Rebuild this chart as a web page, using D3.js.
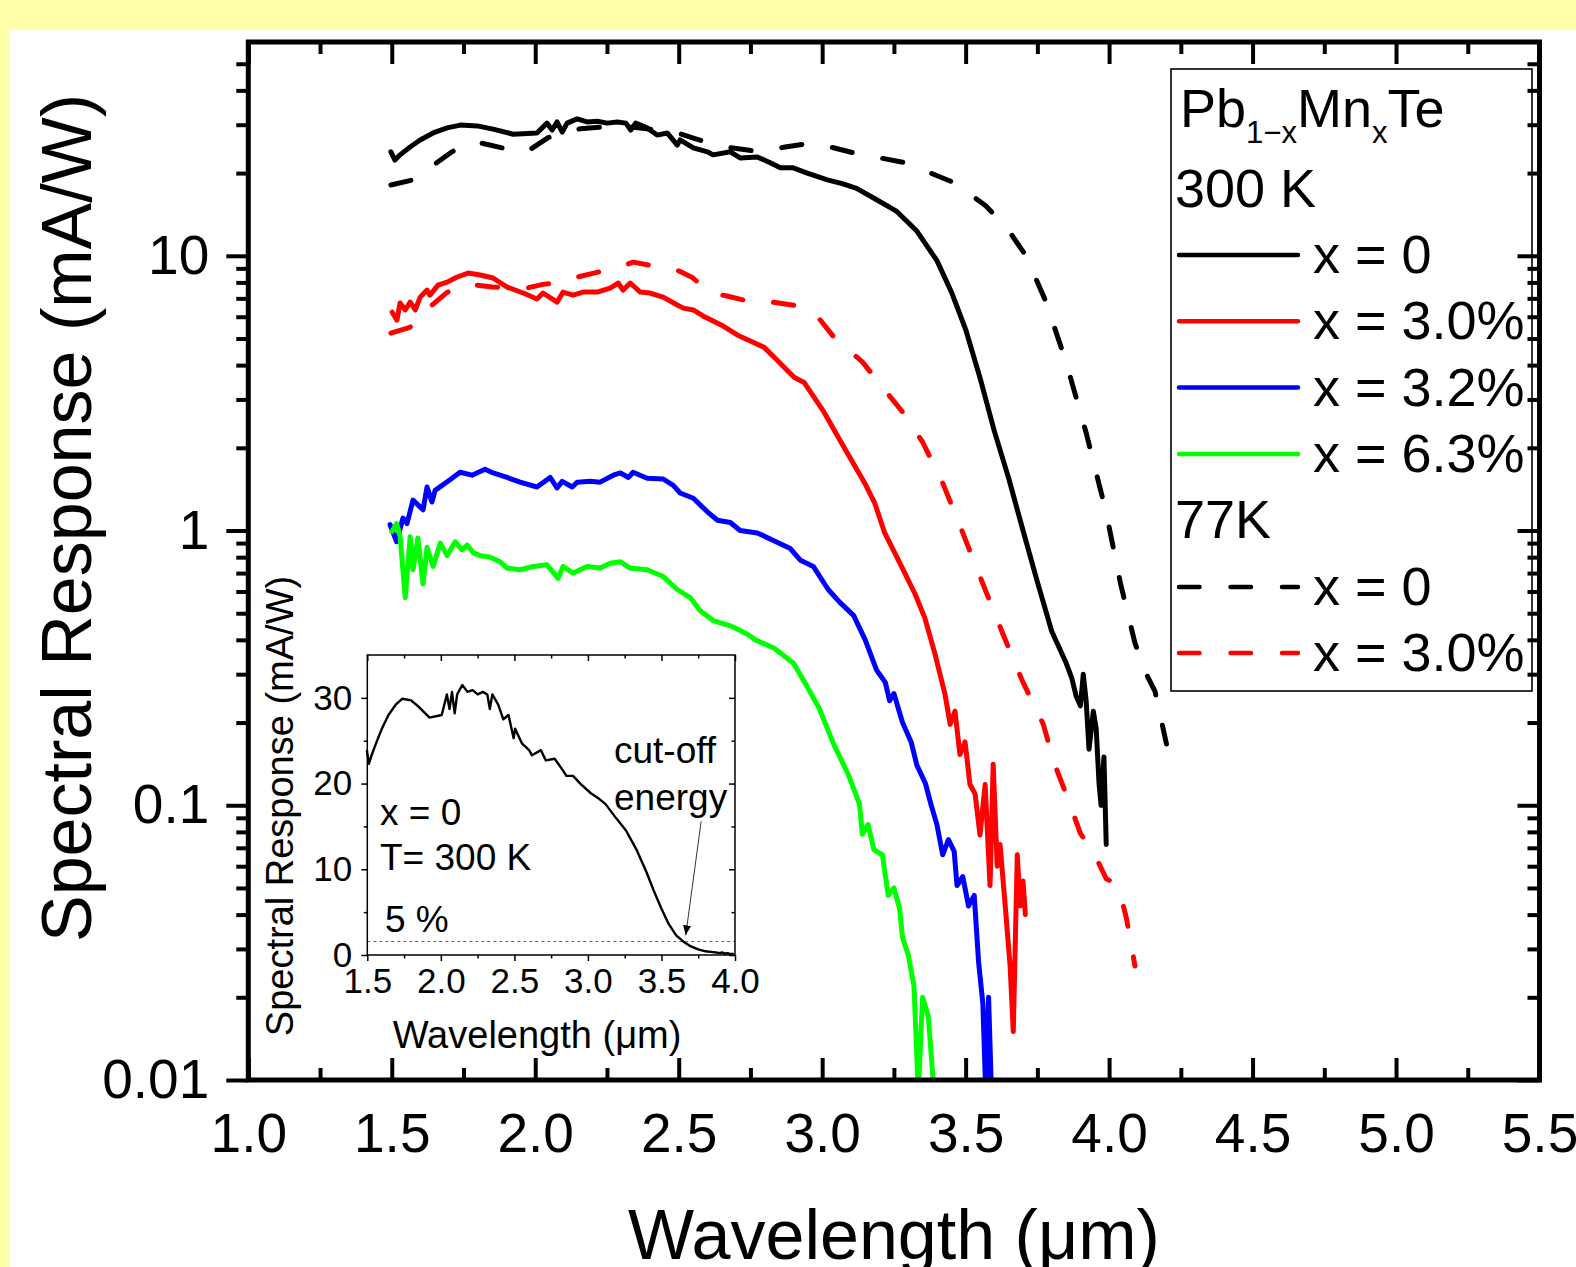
<!DOCTYPE html>
<html>
<head>
<meta charset="utf-8">
<script src="https://cdn.jsdelivr.net/npm/d3@7"></script>
<style>
  body { margin: 0; background: #fff; }
  svg { display: block; font-family: "Liberation Sans", Arial, sans-serif; }
</style>
</head>
<body>
<svg id="chart" width="1576" height="1267"></svg>
<script>
// ---- Axis ticks and labels ----
const xMajor = [1.0, 1.5, 2.0, 2.5, 3.0, 3.5, 4.0, 4.5, 5.0, 5.5];
const xTickLabels = ["1.0", "1.5", "2.0", "2.5", "3.0", "3.5", "4.0", "4.5", "5.0", "5.5"];
const xMinor = [1.25, 1.75, 2.25, 2.75, 3.25, 3.75, 4.25, 4.75, 5.25];
const yMajor = [0.01, 0.1, 1, 10];
const yTickLabels = ["0.01", "0.1", "1", "10"];
const yMinor = [0.02, 0.03, 0.04, 0.05, 0.06, 0.07, 0.08, 0.09,
                0.2, 0.3, 0.4, 0.5, 0.6, 0.7, 0.8, 0.9,
                2, 3, 4, 5, 6, 7, 8, 9, 20, 30, 40, 50];

const insetXMajor = [1.5, 2.0, 2.5, 3.0, 3.5, 4.0];
const insetXLabels = ["1.5", "2.0", "2.5", "3.0", "3.5", "4.0"];
const insetXMinor = [1.75, 2.25, 2.75, 3.25, 3.75];
const insetYMajor = [0, 10, 20, 30];
const insetYLabels = ["0", "10", "20", "30"];
const insetYMinor = [5, 15, 25];

// ---- Spectral response, [wavelength (um), response (mA/W)] ----
// Pb1-xMnxTe, x = 0, 300 K (also shown on a linear scale in the inset)
const pbte300K = [
  [1.497, 23.9], [1.511, 22.3], [1.529, 23.3], [1.564, 24.9], [1.599, 26.4], [1.644, 28.0],
  [1.693, 29.2], [1.739, 29.9], [1.798, 29.7], [1.853, 28.9], [1.923, 27.7], [2.006, 28.0],
  [2.041, 30.4], [2.059, 28.7], [2.076, 30.7], [2.094, 28.2], [2.111, 30.4], [2.146, 31.5],
  [2.181, 30.7], [2.216, 30.9], [2.251, 30.4], [2.286, 30.7], [2.316, 30.4], [2.333, 28.7],
  [2.350, 30.4], [2.390, 29.2], [2.425, 27.5], [2.460, 28.0], [2.495, 25.3], [2.505, 26.4],
  [2.551, 24.7], [2.600, 23.9], [2.620, 23.3], [2.680, 23.9], [2.714, 22.7], [2.774, 22.9],
  [2.819, 21.8], [2.854, 20.9], [2.899, 20.9], [2.948, 20.0], [3.018, 18.9], [3.07, 18.3],
  [3.12, 17.6], [3.19, 16.0], [3.26, 14.5], [3.33, 12.3], [3.40, 9.6], [3.45, 7.4],
  [3.50, 5.4], [3.55, 3.6], [3.60, 2.3], [3.65, 1.55], [3.70, 1.0], [3.75, 0.65],
  [3.80, 0.43], [3.85, 0.33], [3.87, 0.29], [3.885, 0.25], [3.90, 0.23], [3.91, 0.30],
  [3.92, 0.24], [3.93, 0.16], [3.945, 0.22], [3.955, 0.19], [3.965, 0.12], [3.972, 0.10],
  [3.982, 0.15], [3.99, 0.072]
];
// x = 3.0 %, 300 K
const mn30_300K = [
  [1.501, 6.24], [1.518, 5.83], [1.529, 6.73], [1.547, 6.35], [1.564, 6.78], [1.582, 6.35],
  [1.599, 7.07], [1.623, 7.50], [1.633, 7.19], [1.661, 7.82], [1.693, 8.02], [1.728, 8.37],
  [1.766, 8.65], [1.808, 8.51], [1.853, 8.30], [1.902, 7.69], [1.958, 7.32], [2.006, 6.96],
  [2.027, 7.32], [2.076, 6.78], [2.097, 7.38], [2.132, 7.19], [2.167, 7.38], [2.216, 7.38],
  [2.261, 7.63], [2.289, 7.96], [2.306, 7.50], [2.331, 7.96], [2.366, 7.38], [2.400, 7.32],
  [2.446, 7.07], [2.495, 6.62], [2.516, 6.45], [2.551, 6.35], [2.586, 6.03], [2.620, 5.79],
  [2.655, 5.55], [2.704, 5.15], [2.797, 4.65], [2.85, 4.1], [2.902, 3.61], [2.937, 3.46],
  [3.007, 2.69], [3.077, 2.0], [3.148, 1.49], [3.183, 1.26], [3.218, 0.98], [3.253, 0.83],
  [3.288, 0.70], [3.323, 0.59], [3.358, 0.48], [3.393, 0.356], [3.428, 0.254], [3.446, 0.197],
  [3.463, 0.22], [3.48, 0.153], [3.498, 0.17], [3.515, 0.119], [3.533, 0.11], [3.55, 0.078],
  [3.568, 0.119], [3.585, 0.051], [3.596, 0.141], [3.61, 0.06], [3.62, 0.072], [3.638, 0.043],
  [3.655, 0.026], [3.666, 0.015], [3.68, 0.066], [3.69, 0.043], [3.70, 0.053], [3.708, 0.040]
];
// x = 3.2 %, 300 K
const mn32_300K = [
  [1.494, 1.05], [1.517, 0.91], [1.539, 1.11], [1.553, 1.06], [1.574, 1.29], [1.609, 1.19],
  [1.623, 1.44], [1.640, 1.27], [1.651, 1.40], [1.703, 1.53], [1.738, 1.63], [1.780, 1.59],
  [1.825, 1.67], [1.853, 1.62], [1.902, 1.56], [1.947, 1.50], [2.006, 1.44], [2.052, 1.56],
  [2.076, 1.43], [2.094, 1.51], [2.129, 1.44], [2.146, 1.50], [2.192, 1.51], [2.226, 1.50],
  [2.272, 1.59], [2.297, 1.62], [2.325, 1.56], [2.341, 1.63], [2.390, 1.55], [2.446, 1.54],
  [2.481, 1.46], [2.505, 1.37], [2.551, 1.31], [2.600, 1.17], [2.635, 1.09], [2.680, 1.07],
  [2.714, 1.00], [2.774, 0.98], [2.830, 0.92], [2.889, 0.86], [2.924, 0.78], [2.969, 0.74],
  [3.021, 0.61], [3.06, 0.55], [3.11, 0.49], [3.15, 0.40], [3.19, 0.31], [3.22, 0.28],
  [3.235, 0.24], [3.25, 0.255], [3.28, 0.20], [3.31, 0.17], [3.33, 0.14], [3.36, 0.12],
  [3.38, 0.10], [3.40, 0.085], [3.42, 0.066], [3.44, 0.075], [3.46, 0.068], [3.47, 0.051],
  [3.49, 0.055], [3.51, 0.043], [3.53, 0.047], [3.545, 0.027], [3.56, 0.019], [3.57, 0.009],
  [3.58, 0.02], [3.59, 0.009]
];
// x = 6.3 %, 300 K
const mn63_300K = [
  [1.500, 0.99], [1.517, 1.06], [1.529, 0.95], [1.547, 0.57], [1.564, 0.95], [1.574, 0.72],
  [1.591, 0.94], [1.609, 0.64], [1.623, 0.87], [1.644, 0.74], [1.669, 0.90], [1.693, 0.81],
  [1.721, 0.91], [1.745, 0.85], [1.763, 0.885], [1.784, 0.83], [1.808, 0.81], [1.843, 0.80],
  [1.877, 0.77], [1.902, 0.73], [1.947, 0.72], [1.993, 0.74], [2.041, 0.75], [2.080, 0.67],
  [2.097, 0.74], [2.132, 0.70], [2.181, 0.74], [2.226, 0.73], [2.261, 0.76], [2.297, 0.77],
  [2.330, 0.73], [2.390, 0.72], [2.446, 0.68], [2.495, 0.61], [2.540, 0.57], [2.575, 0.51],
  [2.620, 0.47], [2.680, 0.45], [2.739, 0.42], [2.767, 0.40], [2.833, 0.373], [2.90, 0.329],
  [2.94, 0.279], [2.99, 0.225], [3.04, 0.167], [3.09, 0.130], [3.13, 0.101], [3.14, 0.0785],
  [3.16, 0.085], [3.18, 0.069], [3.21, 0.066], [3.23, 0.047], [3.25, 0.05], [3.27, 0.042],
  [3.28, 0.033], [3.30, 0.0285], [3.32, 0.022], [3.335, 0.009], [3.35, 0.02], [3.37, 0.017],
  [3.39, 0.009]
];
// x = 0, 77 K
const pbte77K = [
  [1.497, 18.1], [1.574, 18.9], [1.64, 21.2], [1.71, 23.9], [1.76, 25.5], [1.80, 25.9],
  [1.885, 24.7], [1.93, 24.0], [1.975, 24.1], [2.045, 26.9], [2.097, 28.0], [2.157, 29.0],
  [2.25, 29.5], [2.35, 29.3], [2.488, 28.2], [2.551, 26.8], [2.65, 25.0], [2.784, 23.9],
  [2.871, 24.9], [2.958, 25.7], [3.028, 24.9], [3.11, 23.7], [3.29, 21.8], [3.463, 18.4],
  [3.57, 15.2], [3.64, 12.8], [3.71, 10.0], [3.78, 6.8], [3.85, 4.1], [3.92, 2.27],
  [3.99, 1.16], [4.04, 0.64], [4.09, 0.39], [4.13, 0.30], [4.16, 0.26], [4.20, 0.167]
];
// x = 3.0 %, 77 K
const mn30_77K = [
  [1.497, 5.23], [1.563, 5.49], [1.627, 6.44], [1.693, 7.36], [1.76, 7.9], [1.85, 7.7],
  [1.965, 7.61], [2.027, 7.87], [2.094, 8.0], [2.146, 8.36], [2.219, 8.72], [2.285, 9.01],
  [2.341, 9.48], [2.40, 9.24], [2.48, 9.01], [2.546, 8.36], [2.609, 7.36], [2.672, 7.12],
  [2.76, 6.77], [2.83, 6.77], [2.906, 6.6], [2.975, 6.17], [3.04, 5.07], [3.14, 4.11],
  [3.21, 3.33], [3.28, 2.7], [3.35, 2.1], [3.42, 1.49], [3.49, 0.98], [3.56, 0.64],
  [3.63, 0.42], [3.70, 0.28], [3.77, 0.198], [3.81, 0.141], [3.85, 0.11], [3.90, 0.079],
  [3.95, 0.066], [3.99, 0.054], [4.02, 0.052], [4.04, 0.047], [4.06, 0.039], [4.08, 0.030],
  [4.09, 0.026]
];

const legendLabels = ["x = 0", "x = 3.0%", "x = 3.2%", "x = 6.3%", "x = 0", "x = 3.0%"];
const cutoffFraction = 0.05;          // 5 % of the peak response
const arrowFrom = [3.77, 15.6];        // inset annotation arrow, data units
const arrowTo = [3.665, 2.3];

// ---- Drawing ----
const W = 1576, H = 1267;
const FONT = "Liberation Sans, Arial, sans-serif";
const svg = d3.select("#chart");

svg.append("rect").attr("width", W).attr("height", H).attr("fill", "#ffffaa");
svg.append("rect").attr("x", 10).attr("y", 30).attr("width", W - 10).attr("height", H - 30).attr("fill", "#fff");

const plot = { left: 248.3, right: 1539.5, top: 42, bottom: 1080 };
const x = d3.scaleLinear().domain([1, 5.5]).range([plot.left, plot.right]);
const y = d3.scaleLog().domain([0.01, 60]).range([plot.bottom, plot.top]);

const defs = svg.append("defs");
defs.append("clipPath").attr("id", "plotClip")
  .append("rect")
  .attr("x", plot.left).attr("y", plot.top)
  .attr("width", plot.right - plot.left).attr("height", plot.bottom - plot.top);

const series = [
  { data: pbte300K, color: "#000000", dashed: false },
  { data: mn30_300K, color: "#ff0000", dashed: false },
  { data: mn32_300K, color: "#0000ff", dashed: false },
  { data: mn63_300K, color: "#00ff00", dashed: false },
  { data: pbte77K, color: "#000000", dashed: true },
  { data: mn30_77K, color: "#ff0000", dashed: true }
];
const DASH = "20.5 31";

const line = d3.line().x(d => x(d[0])).y(d => y(d[1]));

svg.append("g").attr("clip-path", "url(#plotClip)")
  .selectAll("path")
  .data(series)
  .join("path")
  .attr("d", d => line(d.data))
  .attr("fill", "none")
  .attr("stroke", d => d.color)
  .attr("stroke-width", 5)
  .attr("stroke-linejoin", "round")
  .attr("stroke-linecap", "round")
  .attr("stroke-dasharray", d => d.dashed ? DASH : null);

// ---- Legend ----
const lg = svg.append("g");
lg.append("rect")
  .attr("x", 1171).attr("y", 69).attr("width", 361).attr("height", 622)
  .attr("fill", "#fff").attr("stroke", "#000").attr("stroke-width", 1.6);

const title = lg.append("text").attr("x", 1180).attr("y", 127).attr("font-size", 54);
title.append("tspan").text("Pb");
title.append("tspan").attr("font-size", 31).attr("dy", 16).text("1\u2212x");
title.append("tspan").attr("font-size", 54).attr("dy", -16).text("Mn");
title.append("tspan").attr("font-size", 31).attr("dy", 16).text("x");
title.append("tspan").attr("font-size", 54).attr("dy", -16).text("Te");

lg.append("text").attr("x", 1175).attr("y", 207).attr("font-size", 54).text("300 K");
lg.append("text").attr("x", 1175).attr("y", 538).attr("font-size", 54).text("77K");

const rowY = (d, i) => i < 4 ? 255 + i * 66.3 : 587 + (i - 4) * 66;
const rows = lg.selectAll("g.row")
  .data(series)
  .join("g").attr("class", "row")
  .attr("transform", (d, i) => `translate(0,${rowY(d, i)})`);
rows.append("line")
  .attr("x1", 1179).attr("x2", 1298)
  .attr("stroke", d => d.color).attr("stroke-width", 4.5)
  .attr("stroke-linecap", "round")
  .attr("stroke-dasharray", d => d.dashed ? DASH : null);
rows.append("text")
  .attr("x", 1313).attr("y", 18).attr("font-size", 54)
  .text((d, i) => legendLabels[i]);

// ---- Main axes ----
function tidy(g, width) {
  g.select(".domain").remove();
  g.selectAll(".tick line").attr("stroke", "#000").attr("stroke-width", width);
  return g;
}

const axB = svg.append("g").attr("transform", `translate(0,${plot.bottom})`)
  .call(d3.axisBottom(x).tickValues(xMajor).tickSize(-22).tickFormat((d, i) => xTickLabels[i]));
tidy(axB, 4);
axB.selectAll(".tick text").attr("y", 72).attr("dy", null)
  .attr("font-size", 55).attr("font-family", FONT).attr("fill", "#000");
tidy(svg.append("g").attr("transform", `translate(0,${plot.bottom})`)
  .call(d3.axisBottom(x).tickValues(xMinor).tickSize(-12).tickFormat("")), 4);

tidy(svg.append("g").attr("transform", `translate(0,${plot.top})`)
  .call(d3.axisTop(x).tickValues(xMajor).tickSize(-22).tickFormat("")), 4);
tidy(svg.append("g").attr("transform", `translate(0,${plot.top})`)
  .call(d3.axisTop(x).tickValues(xMinor).tickSize(-12).tickFormat("")), 4);

const axL = svg.append("g").attr("transform", `translate(${plot.left},0)`)
  .call(d3.axisLeft(y).tickValues(yMajor).tickSize(22).tickPadding(17)
    .tickFormat((d, i) => yTickLabels[i]));
tidy(axL, 4);
axL.selectAll(".tick text").attr("font-size", 55)
  .attr("font-family", FONT).attr("fill", "#000");
tidy(svg.append("g").attr("transform", `translate(${plot.left},0)`)
  .call(d3.axisLeft(y).tickValues(yMinor).tickSize(12).tickFormat("")), 4);

tidy(svg.append("g").attr("transform", `translate(${plot.right},0)`)
  .call(d3.axisRight(y).tickValues(yMajor).tickSize(-22).tickFormat("")), 4);
tidy(svg.append("g").attr("transform", `translate(${plot.right},0)`)
  .call(d3.axisRight(y).tickValues(yMinor).tickSize(-12).tickFormat("")), 4);

svg.append("rect")
  .attr("x", plot.left).attr("y", plot.top)
  .attr("width", plot.right - plot.left).attr("height", plot.bottom - plot.top)
  .attr("fill", "none").attr("stroke", "#000").attr("stroke-width", 5);

svg.append("text")
  .attr("transform", "translate(91,518) rotate(-90)")
  .attr("text-anchor", "middle").attr("font-size", 70)
  .text("Spectral Response (mA/W)");
svg.append("text")
  .attr("x", 894).attr("y", 1259)
  .attr("text-anchor", "middle").attr("font-size", 70)
  .text("Wavelength (\u03bcm)");

// ---- Inset: linear-scale response of x = 0 at 300 K ----
const ins = { left: 367.3, right: 735, top: 655, bottom: 955 };
const xi = d3.scaleLinear().domain([1.5, 4.0]).range([ins.left, ins.right]);
const yi = d3.scaleLinear().domain([0, 35]).range([ins.bottom, ins.top]);
const gi = svg.append("g");

gi.append("rect")
  .attr("x", ins.left).attr("y", ins.top)
  .attr("width", ins.right - ins.left).attr("height", ins.bottom - ins.top)
  .attr("fill", "#fff");

const peak = d3.max(pbte300K, d => d[1]);
const cutLevel = cutoffFraction * peak;
gi.append("line")
  .attr("x1", xi(1.5)).attr("x2", xi(4.0))
  .attr("y1", yi(cutLevel)).attr("y2", yi(cutLevel))
  .attr("stroke", "#666").attr("stroke-width", 1).attr("stroke-dasharray", "3 3");

const lineInset = d3.line().x(d => xi(d[0])).y(d => yi(d[1]));
gi.append("path")
  .attr("d", lineInset(pbte300K.filter(d => d[0] <= 4.0)))
  .attr("fill", "none").attr("stroke", "#000").attr("stroke-width", 2.4)
  .attr("stroke-linejoin", "round");

defs.append("marker")
  .attr("id", "arrowHead").attr("viewBox", "0 0 10 8")
  .attr("refX", 10).attr("refY", 4)
  .attr("markerWidth", 10).attr("markerHeight", 8)
  .attr("markerUnits", "userSpaceOnUse")
  .attr("orient", "auto")
  .append("path").attr("d", "M0,0 L10,4 L0,8 Z").attr("fill", "#000");
gi.append("line")
  .attr("x1", xi(arrowFrom[0])).attr("y1", yi(arrowFrom[1]))
  .attr("x2", xi(arrowTo[0])).attr("y2", yi(arrowTo[1]))
  .attr("stroke", "#333").attr("stroke-width", 1)
  .attr("marker-end", "url(#arrowHead)");

const iB = gi.append("g").attr("transform", `translate(0,${ins.bottom})`)
  .call(d3.axisBottom(xi).tickValues(insetXMajor).tickSize(6).tickFormat((d, i) => insetXLabels[i]));
tidy(iB, 1.5);
iB.selectAll(".tick text").attr("y", 38).attr("dy", null).attr("font-size", 35)
  .attr("font-family", FONT).attr("fill", "#000");
tidy(gi.append("g").attr("transform", `translate(0,${ins.bottom})`)
  .call(d3.axisBottom(xi).tickValues(insetXMinor).tickSize(3.5).tickFormat("")), 1.5);
tidy(gi.append("g").attr("transform", `translate(0,${ins.top})`)
  .call(d3.axisTop(xi).tickValues(insetXMajor).tickSize(-6).tickFormat("")), 1.5);
tidy(gi.append("g").attr("transform", `translate(0,${ins.top})`)
  .call(d3.axisTop(xi).tickValues(insetXMinor).tickSize(-3.5).tickFormat("")), 1.5);

const iL = gi.append("g").attr("transform", `translate(${ins.left},0)`)
  .call(d3.axisLeft(yi).tickValues(insetYMajor).tickSize(6).tickPadding(9)
    .tickFormat((d, i) => insetYLabels[i]));
tidy(iL, 1.5);
iL.selectAll(".tick text").attr("font-size", 35)
  .attr("font-family", FONT).attr("fill", "#000");
tidy(gi.append("g").attr("transform", `translate(${ins.left},0)`)
  .call(d3.axisLeft(yi).tickValues(insetYMinor).tickSize(3.5).tickFormat("")), 1.5);
tidy(gi.append("g").attr("transform", `translate(${ins.right},0)`)
  .call(d3.axisRight(yi).tickValues(insetYMajor).tickSize(-6).tickFormat("")), 1.5);
tidy(gi.append("g").attr("transform", `translate(${ins.right},0)`)
  .call(d3.axisRight(yi).tickValues(insetYMinor).tickSize(-3.5).tickFormat("")), 1.5);

gi.append("rect")
  .attr("x", ins.left).attr("y", ins.top)
  .attr("width", ins.right - ins.left).attr("height", ins.bottom - ins.top)
  .attr("fill", "none").attr("stroke", "#000").attr("stroke-width", 1.5);

gi.append("text").attr("x", 537).attr("y", 1048).attr("text-anchor", "middle")
  .attr("font-size", 38).text("Wavelength (\u03bcm)");
gi.append("text").attr("transform", "translate(293,806) rotate(-90)")
  .attr("text-anchor", "middle").attr("font-size", 38).text("Spectral Response (mA/W)");

const notes = [
  { t: "x = 0", x: 380, y: 825 },
  { t: "T= 300 K", x: 380, y: 870 },
  { t: "5 %", x: 385, y: 932 },
  { t: "cut-off", x: 614, y: 763 },
  { t: "energy", x: 614, y: 810 }
];
gi.selectAll("text.note").data(notes).join("text").attr("class", "note")
  .attr("x", d => d.x).attr("y", d => d.y).attr("font-size", 37).text(d => d.t);
</script>
</body>
</html>
